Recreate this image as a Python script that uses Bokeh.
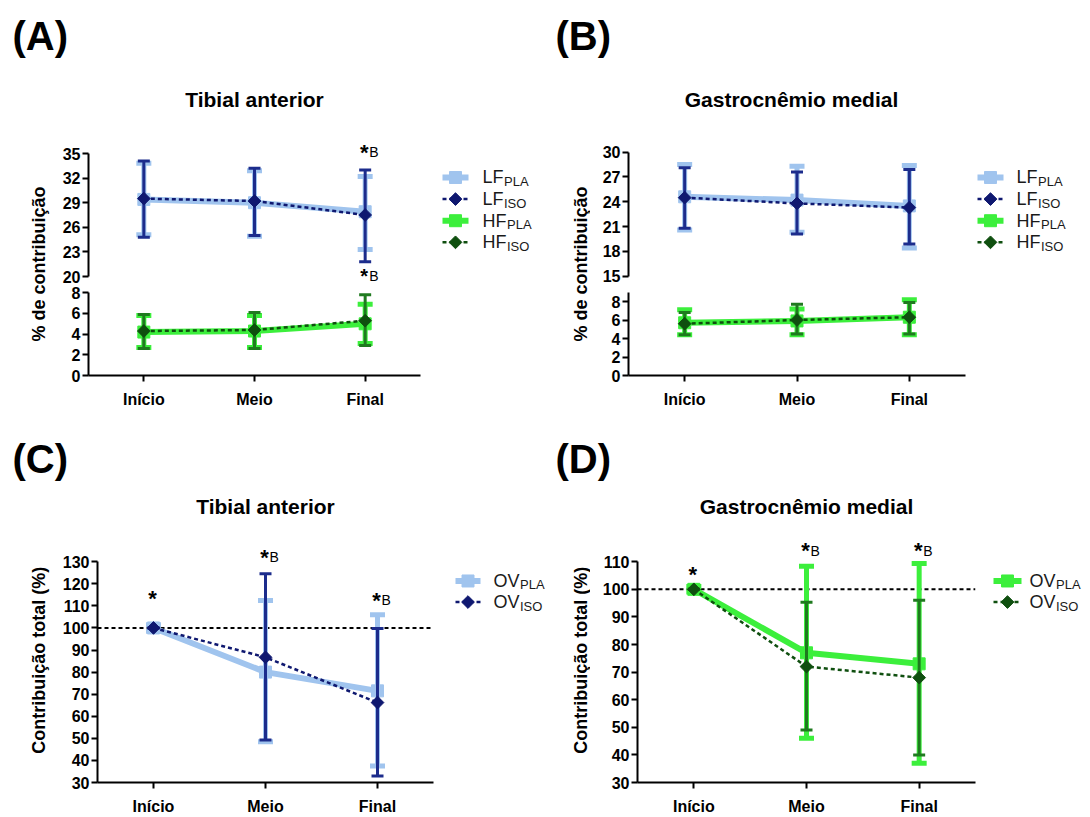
import math
from bokeh.plotting import figure
from bokeh.models import (Range1d, FactorRange, FixedTicker, LinearAxis, CategoricalAxis,
                          Span, ColumnDataSource)
from bokeh.layouts import row, column
from bokeh.embed import file_html
from bokeh.resources import INLINE
from bokeh.core.properties import value

FONT = "Liberation Sans"
LIGHT_BLUE = "#A0C4EE"
NAVY = "#1C2C8C"
NAVY_DARK = "#0F1870"
GREEN = "#3CEF3C"
DARK_GREEN = "#1F7A1F"
DARK_GREEN_M = "#0F4F0F"

categories = ["Início", "Meio", "Final"]

# ---- (A) Tibial anterior : % de contribuição ----
a_lf_pla_mean = [29.4, 29.0, 27.9]
a_lf_pla_lo = [25.1, 24.9, 23.3]
a_lf_pla_hi = [33.8, 32.9, 32.2]
a_lf_iso_mean = [29.5, 29.2, 27.5]
a_lf_iso_lo = [24.8, 25.0, 21.8]
a_lf_iso_hi = [34.1, 33.2, 33.0]
a_hf_pla_mean = [4.2, 4.3, 5.0]
a_hf_pla_lo = [2.7, 2.7, 3.1]
a_hf_pla_hi = [5.8, 5.8, 6.9]
a_hf_iso_mean = [4.3, 4.4, 5.3]
a_hf_iso_lo = [2.6, 2.6, 2.9]
a_hf_iso_hi = [5.9, 6.1, 7.8]

# ---- (B) Gastrocnêmio medial : % de contribuição ----
b_lf_pla_mean = [24.6, 24.2, 23.5]
b_lf_pla_lo = [20.6, 20.3, 18.4]
b_lf_pla_hi = [28.5, 28.3, 28.4]
b_lf_iso_mean = [24.5, 23.8, 23.3]
b_lf_iso_lo = [20.8, 20.1, 18.9]
b_lf_iso_hi = [28.1, 27.6, 27.9]
b_hf_pla_mean = [5.7, 5.9, 6.3]
b_hf_pla_lo = [4.4, 4.4, 4.4]
b_hf_pla_hi = [7.1, 7.2, 8.2]
b_hf_iso_mean = [5.6, 6.0, 6.3]
b_hf_iso_lo = [4.4, 4.5, 4.5]
b_hf_iso_hi = [6.8, 7.7, 7.9]

# ---- (C) Tibial anterior : Contribuição total (%) ----
c_ov_pla_mean = [100.0, 80.0, 71.5]
c_ov_pla_lo = [98.5, 48.5, 37.5]
c_ov_pla_hi = [101.5, 112.4, 106.0]
c_ov_iso_mean = [100.0, 86.7, 66.2]
c_ov_iso_lo = [100.0, 49.3, 33.0]
c_ov_iso_hi = [100.0, 124.5, 99.8]

# ---- (D) Gastrocnêmio medial : Contribuição total (%) ----
d_ov_pla_mean = [100.0, 77.0, 73.0]
d_ov_pla_lo = [99.0, 46.0, 37.0]
d_ov_pla_hi = [101.0, 108.4, 109.4]
d_ov_iso_mean = [100.0, 72.0, 68.0]
d_ov_iso_lo = [100.0, 49.0, 40.0]
d_ov_iso_hi = [100.0, 95.3, 96.0]

# tick values
a_lf_ticks = [20, 23, 26, 29, 32, 35]
a_hf_ticks = [0, 2, 4, 6, 8]
b_lf_ticks = [15, 18, 21, 24, 27, 30]
b_hf_ticks = [0, 2, 4, 6, 8]
c_ticks = [30, 40, 50, 60, 70, 80, 90, 100, 110, 120, 130]
d_ticks = [30, 40, 50, 60, 70, 80, 90, 100, 110]
baseline_total = 100

# ---------------------------------------------------------------
CHAR_W = {"L": 0.556, "F": 0.611, "H": 0.722, "O": 0.778, "V": 0.667}


def text_w(s, size):
    return sum(CHAR_W.get(c, 0.6) for c in s) * size


def blank(width, height):
    p = figure(width=width, height=height, x_range=Range1d(0, width), y_range=Range1d(0, height),
               x_axis_type=None, y_axis_type=None, min_border=0,
               output_backend="svg", toolbar_location=None)
    p.outline_line_color = None
    return p


def axis_style(ax, standoff):
    ax.axis_line_width = 2
    ax.axis_line_color = "black"
    ax.major_tick_line_width = 2
    ax.major_tick_line_color = "black"
    ax.major_tick_out = 6
    ax.major_tick_in = 0
    ax.minor_tick_out = 0
    ax.minor_tick_in = 0
    ax.major_label_text_font = FONT
    ax.major_label_text_font_style = "bold"
    ax.major_label_text_font_size = "16px"
    ax.major_label_text_color = "black"
    ax.major_label_standoff = standoff


def data_fig(width, height, yr, left, right, top, bottom, xaxis=False, xstandoff=9):
    p = figure(width=width, height=height,
               x_range=FactorRange(factors=categories, range_padding=0),
               y_range=Range1d(*yr), x_axis_type=None, y_axis_type=None,
               min_border_left=left, min_border_right=right,
               min_border_top=top, min_border_bottom=bottom,
               output_backend="svg", toolbar_location=None)
    p.outline_line_color = None
    if xaxis:
        ax = CategoricalAxis()
        axis_style(ax, xstandoff)
        p.add_layout(ax, "below")
    return p


def add_yaxis(p, ticks, bounds):
    ax = LinearAxis(ticker=FixedTicker(ticks=ticks), bounds=bounds)
    axis_style(ax, 2)
    p.add_layout(ax, "left")


def yrange(v_ref, px_above_bottom, ppu, frame_h):
    lo = v_ref - px_above_bottom / ppu
    return (lo, lo + frame_h / ppu)


def draw_pla(p, mean, lo, hi, color):
    src = ColumnDataSource(dict(x=categories, m=mean, lo=lo, hi=hi))
    p.line("x", "m", source=src, line_width=6, line_color=color, line_join="round")
    p.segment("x", "lo", "x", "hi", source=src, line_width=5, line_color=color)
    for col in ("lo", "hi"):
        p.scatter("x", col, source=src, marker="dash", size=15, line_width=5, line_color=color)
    p.scatter("x", "m", source=src, marker="square", size=12, fill_color=color, line_color=color)


def draw_iso(p, mean, lo, hi, color, mcolor):
    src = ColumnDataSource(dict(x=categories, m=mean, lo=lo, hi=hi))
    p.line("x", "m", source=src, line_width=2.5, line_color=mcolor, line_dash="4 3")
    p.segment("x", "lo", "x", "hi", source=src, line_width=3, line_color=color)
    for col in ("lo", "hi"):
        p.scatter("x", col, source=src, marker="dash", size=12, line_width=3, line_color=color)
    p.scatter("x", "m", source=src, marker="square", angle=math.pi / 4, size=9,
              fill_color=mcolor, line_color=mcolor)


def sig(p, cat, yv, sub="B", star_size="22px"):
    p.text(x=[cat], y=[yv], text=["*"], text_font=value(FONT), text_font_size=star_size,
           text_font_style="bold", text_align="center", text_baseline="middle",
           x_offset=-1, y_offset=3, text_color="black")
    if sub:
        p.text(x=[cat], y=[yv], text=[sub], text_font=value(FONT), text_font_size="14px",
               text_align="left", text_baseline="middle", x_offset=4, y_offset=3,
               text_color="black")


def legend_fig(width, height, entries, x0, x1, tx):
    p = blank(width, height)
    for (ytop, main, sub, kind, color, mcolor) in entries:
        y = height - ytop
        xm = (x0 + x1) / 2
        if kind == "pla":
            p.line([x0, x1], [y, y], line_width=6, line_color=color)
            p.scatter([xm], [y], marker="square", size=12, fill_color=color, line_color=color)
        else:
            p.line([x0, x1], [y, y], line_width=2.5, line_color=mcolor, line_dash="4 3")
            p.scatter([xm], [y], marker="square", angle=math.pi / 4, size=9,
                      fill_color=mcolor, line_color=mcolor)
        p.text([tx], [y], text=[main], text_font=value(FONT), text_font_size="18px",
               text_align="left", text_baseline="middle", text_color="#1a1a1a")
        p.text([tx + text_w(main, 18) + 0.5], [y], text=[sub], text_font=value(FONT),
               text_font_size="13px", text_align="left", text_baseline="middle",
               y_offset=4, text_color="#1a1a1a")
    return p


def strip(width, height, cx, cy_top, txt):
    p = blank(width, height)
    p.text([cx], [height - cy_top], text=[txt], angle=math.pi / 2, text_font=value(FONT),
           text_font_style="bold", text_font_size="18px", text_align="center",
           text_baseline="middle", text_color="black")
    return p


def header(width, height, items):
    p = blank(width, height)
    for (x, ytop, txt, size, align) in items:
        p.text([x], [height - ytop], text=[txt], text_font=value(FONT), text_font_style="bold",
               text_font_size=size, text_align=align, text_baseline="middle", text_color="black")
    return p


# ---------------- headers ----------------
head1 = header(1082, 120, [
    (12, 35, "(A)", "40px", "left"), (555, 35, "(B)", "40px", "left"),
    (254, 99, "Tibial anterior", "21px", "center"),
    (791, 99, "Gastrocnêmio medial", "21px", "center"),
])
head2 = header(1082, 100, [
    (12, 28, "(C)", "40px", "left"), (555, 28, "(D)", "40px", "left"),
    (265, 76, "Tibial anterior", "21px", "center"),
    (806, 76, "Gastrocnêmio medial", "21px", "center"),
])

# ---------------- panel A ----------------
stripA = strip(50, 310, 38, 143.5, "% de contribuição")
topA = data_fig(375, 166, yrange(20, 10, 8.2, 156), 38, 5, 10, 0)
add_yaxis(topA, a_lf_ticks, (20, 35))
draw_pla(topA, a_lf_pla_mean, a_lf_pla_lo, a_lf_pla_hi, LIGHT_BLUE)
draw_iso(topA, a_lf_iso_mean, a_lf_iso_lo, a_lf_iso_hi, NAVY, NAVY_DARK)
sig(topA, "Final", 35.5)
sig(topA, "Final", 20.45, star_size="20px")

botA = data_fig(498, 144, (0, 89 / 10.34), 38, 128, 0, 55, xaxis=True, xstandoff=9)
add_yaxis(botA, a_hf_ticks, (0, 8))
draw_pla(botA, a_hf_pla_mean, a_hf_pla_lo, a_hf_pla_hi, GREEN)
draw_iso(botA, a_hf_iso_mean, a_hf_iso_lo, a_hf_iso_hi, DARK_GREEN, DARK_GREEN_M)

legA = legend_fig(123, 166, [
    (50, "LF", "PLA", "pla", LIGHT_BLUE, LIGHT_BLUE),
    (73, "LF", "ISO", "iso", NAVY, NAVY_DARK),
    (96, "HF", "PLA", "pla", GREEN, GREEN),
    (119, "HF", "ISO", "iso", DARK_GREEN, DARK_GREEN_M),
], 17, 43, 57)

# ---------------- panel B ----------------
stripB = strip(42, 310, 32, 143.5, "% de contribuição")
topB = data_fig(378, 166, yrange(15, 10.3, 8.27, 156), 38, 3, 10, 0)
add_yaxis(topB, b_lf_ticks, (15, 30))
draw_pla(topB, b_lf_pla_mean, b_lf_pla_lo, b_lf_pla_hi, LIGHT_BLUE)
draw_iso(topB, b_lf_iso_mean, b_lf_iso_lo, b_lf_iso_hi, NAVY, NAVY_DARK)

botB = data_fig(492, 144, (0, 89 / 9.25), 38, 117, 0, 55, xaxis=True, xstandoff=9)
add_yaxis(botB, b_hf_ticks, (0, 9))
draw_pla(botB, b_hf_pla_mean, b_hf_pla_lo, b_hf_pla_hi, GREEN)
draw_iso(botB, b_hf_iso_mean, b_hf_iso_lo, b_hf_iso_hi, DARK_GREEN, DARK_GREEN_M)

legB = legend_fig(114, 166, [
    (50, "LF", "PLA", "pla", LIGHT_BLUE, LIGHT_BLUE),
    (73, "LF", "ISO", "iso", NAVY, NAVY_DARK),
    (96, "HF", "PLA", "pla", GREEN, GREEN),
    (119, "HF", "ISO", "iso", DARK_GREEN, DARK_GREEN_M),
], 9, 35, 48)

# ---------------- panel C ----------------
stripC = strip(50, 287, 38.5, 142, "Contribuição total (%)")
figC = data_fig(388, 287, (30, 30 + 243 / 2.217), 47, 5, 10, 34, xaxis=True, xstandoff=9)
add_yaxis(figC, c_ticks, (30, 130))
figC.add_layout(Span(location=baseline_total, dimension="width", line_color="black",
                     line_width=2, line_dash="4 3", level="underlay"))
draw_pla(figC, c_ov_pla_mean, c_ov_pla_lo, c_ov_pla_hi, LIGHT_BLUE)
draw_iso(figC, c_ov_iso_mean, c_ov_iso_lo, c_ov_iso_hi, NAVY, NAVY_DARK)
sig(figC, "Início", 114.5, None)
sig(figC, "Meio", 133.4)
sig(figC, "Final", 114.0)

legC = legend_fig(110, 287, [
    (48, "OV", "PLA", "pla", LIGHT_BLUE, LIGHT_BLUE),
    (73, "OV", "ISO", "iso", NAVY, NAVY_DARK),
], 17, 42, 55)

# ---------------- panel D ----------------
stripD = strip(42, 287, 32, 142, "Contribuição total (%)")
figD = data_fig(390, 287, (30, 30 + 243 / 2.771), 47, 5, 10, 34, xaxis=True, xstandoff=9)
add_yaxis(figD, d_ticks, (30, 110))
figD.add_layout(Span(location=baseline_total, dimension="width", line_color="black",
                     line_width=2, line_dash="4 3", level="underlay"))
draw_pla(figD, d_ov_pla_mean, d_ov_pla_lo, d_ov_pla_hi, GREEN)
draw_iso(figD, d_ov_iso_mean, d_ov_iso_lo, d_ov_iso_hi, DARK_GREEN, DARK_GREEN_M)
sig(figD, "Início", 106.3, None)
sig(figD, "Meio", 115.1)
sig(figD, "Final", 115.1)

legD = legend_fig(102, 287, [
    (48, "OV", "PLA", "pla", GREEN, GREEN),
    (73, "OV", "ISO", "iso", DARK_GREEN, DARK_GREEN_M),
], 13, 41, 49)

row1 = row(stripA, column(row(topA, legA), botA), stripB, column(row(topB, legB), botB))
row2 = row(stripC, figC, legC, stripD, figD, legD)
layout = column(head1, row1, head2, row2)

with open("out.html", "w") as f:
    f.write(file_html(layout, INLINE))
